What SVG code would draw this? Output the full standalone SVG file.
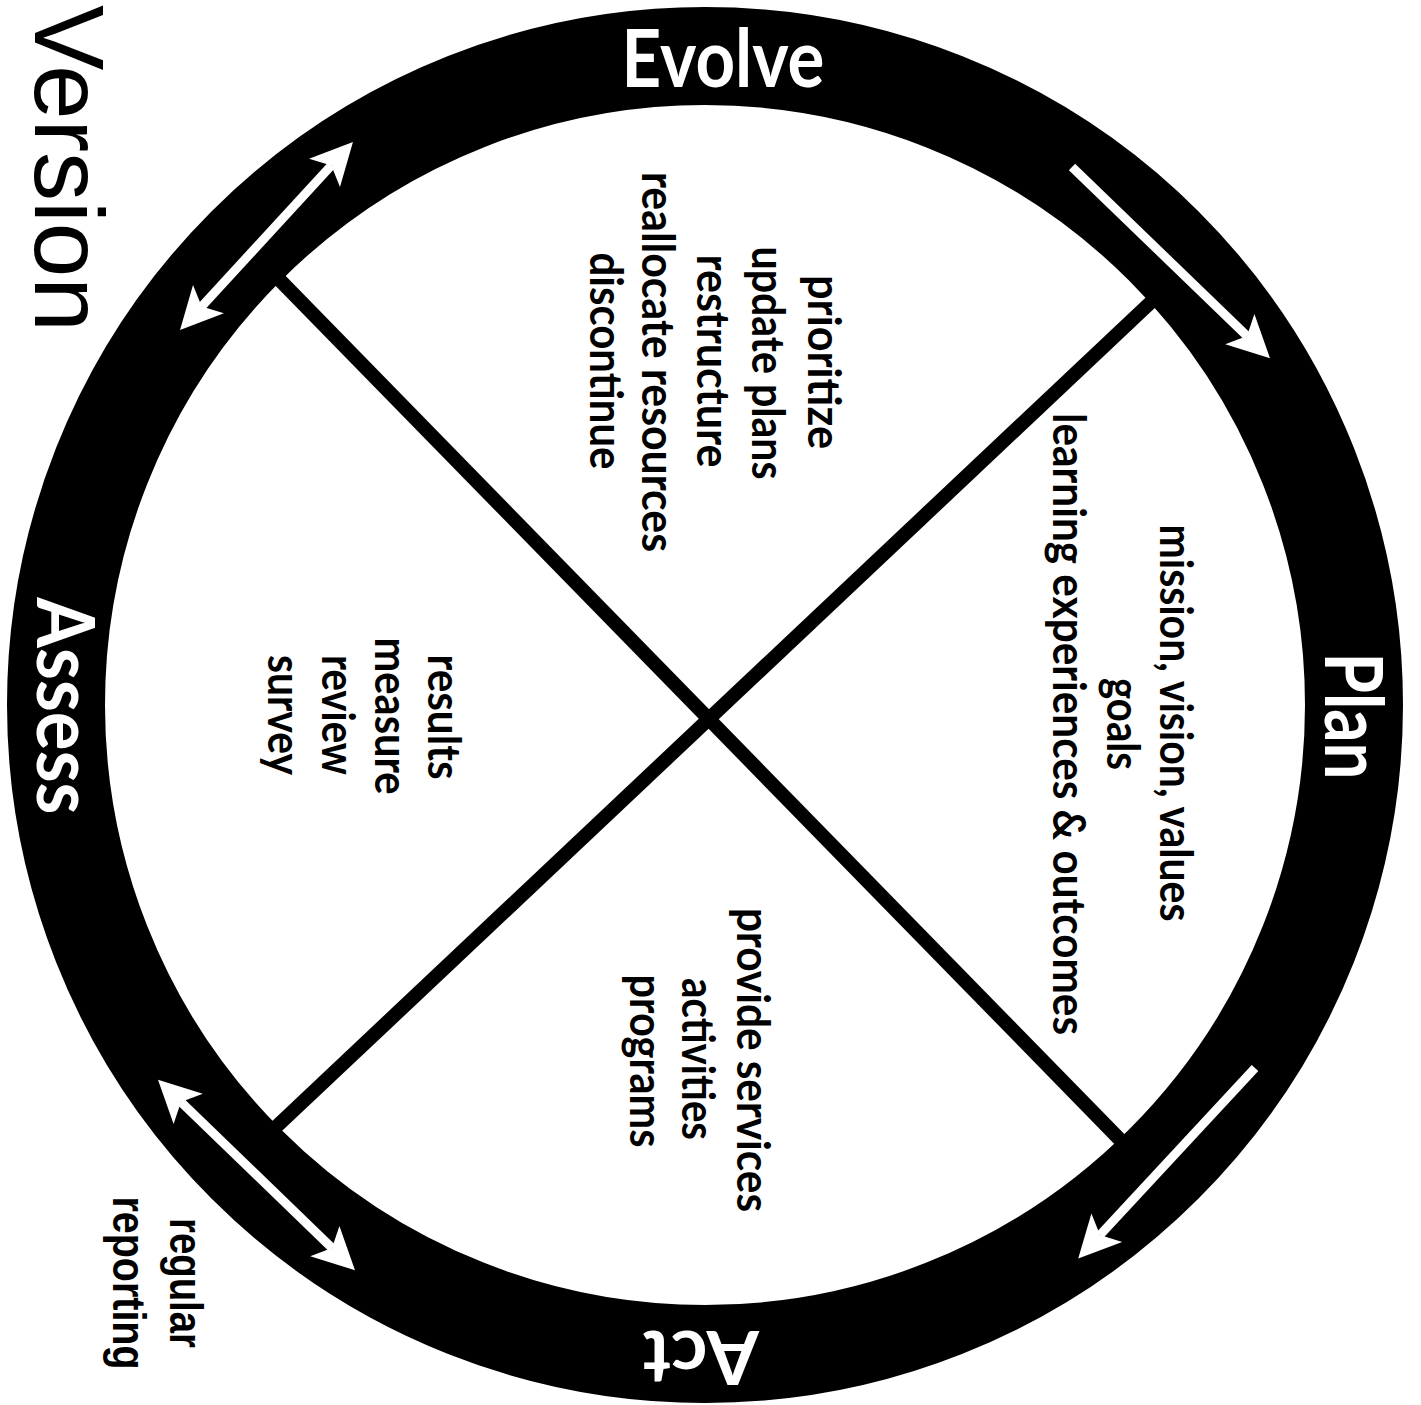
<svg xmlns="http://www.w3.org/2000/svg" width="1421" height="1405" viewBox="0 0 1421 1405">
  <style>
    .ring { fill: none; stroke: #000; stroke-width: 98; }
    .spoke { stroke: #000; stroke-width: 14; stroke-linecap: butt; }
    .arrow { stroke: #fff; stroke-width: 9; fill: none; stroke-linecap: butt; }
    .lbl { font-family: Lato, "Open Sans", sans-serif; font-weight: bold; font-size: 80px; fill: #fff; text-anchor: middle; }
    .body { font-family: Lato, "Open Sans", sans-serif; font-weight: bold; font-size: 46px; fill: #000; text-anchor: middle; }
    .note { font-family: "Liberation Sans", Arial, sans-serif; font-weight: bold; font-size: 46px; fill: #000; text-anchor: middle; }
    .title { font-family: "Liberation Sans", Arial, sans-serif; font-size: 98px; fill: #000; }
  </style>
  <defs>
    <marker id="ah" markerUnits="userSpaceOnUse" markerWidth="60" markerHeight="60" viewBox="-20 -30 60 60" refX="0" refY="0" orient="auto-start-reverse">
      <path d="M32,0 L-10,-21 L0,0 L-10,21 Z" fill="#fff"/>
    </marker>
  </defs>
  <rect width="1421" height="1405" fill="#fff"/>

  <g id="spokes">
    <line class="spoke" x1="269" y1="269" x2="1134" y2="1154"/>
    <line class="spoke" x1="1168" y1="286" x2="258" y2="1144"/>
  </g>

  <g id="cycle-ring">
    <circle class="ring" cx="705" cy="705" r="649"/>
  </g>

  <g id="connectors">
    <line class="arrow" x1="201.7" y1="306.5" x2="331.3" y2="165.5" marker-start="url(#ah)" marker-end="url(#ah)"/>
    <line class="arrow" x1="1072" y1="167" x2="1247" y2="336" marker-end="url(#ah)"/>
    <line class="arrow" x1="1255" y1="1068" x2="1100" y2="1235" marker-end="url(#ah)"/>
    <line class="arrow" x1="181" y1="1102" x2="332" y2="1248" marker-start="url(#ah)" marker-end="url(#ah)"/>
  </g>

  <g id="label-evolve">
    <text class="lbl" x="723" y="87" textLength="203" lengthAdjust="spacingAndGlyphs">Evolve</text>
  </g>
  <g id="label-plan" transform="rotate(90)">
    <text class="lbl" x="716" y="-1325" textLength="127" lengthAdjust="spacingAndGlyphs">Plan</text>
  </g>
  <g id="label-act" transform="rotate(180)">
    <text class="lbl" x="-701" y="-1331" style="font-size:74px" textLength="116" lengthAdjust="spacingAndGlyphs">Act</text>
  </g>
  <g id="label-assess" transform="rotate(90)">
    <text class="lbl" x="706" y="-37" textLength="217" lengthAdjust="spacingAndGlyphs">Assess</text>
  </g>

  <g id="evolve-items" transform="rotate(90)">
    <text class="body" x="362" y="-808" textLength="174" lengthAdjust="spacingAndGlyphs">prioritize</text>
    <text class="body" x="363" y="-752" textLength="233" lengthAdjust="spacingAndGlyphs">update plans</text>
    <text class="body" x="361" y="-697" textLength="213" lengthAdjust="spacingAndGlyphs">restructure</text>
    <text class="body" x="362" y="-642" textLength="380" lengthAdjust="spacingAndGlyphs">reallocate resources</text>
    <text class="body" x="361" y="-590" textLength="217" lengthAdjust="spacingAndGlyphs">discontinue</text>
  </g>

  <g id="plan-items" transform="rotate(90)">
    <text class="body" x="723" y="-1160" textLength="397" lengthAdjust="spacingAndGlyphs">mission, vision, values</text>
    <text class="body" x="724" y="-1107" textLength="92" lengthAdjust="spacingAndGlyphs">goals</text>
    <text class="body" x="724" y="-1053" textLength="622" lengthAdjust="spacingAndGlyphs">learning experiences &amp; outcomes</text>
  </g>

  <g id="act-items" transform="rotate(90)">
    <text class="body" x="1060" y="-737" textLength="304" lengthAdjust="spacingAndGlyphs">provide services</text>
    <text class="body" x="1059" y="-682" textLength="162" lengthAdjust="spacingAndGlyphs">activities</text>
    <text class="body" x="1061" y="-630" textLength="173" lengthAdjust="spacingAndGlyphs">programs</text>
  </g>

  <g id="assess-items" transform="rotate(90)">
    <text class="body" x="717" y="-428" textLength="125" lengthAdjust="spacingAndGlyphs">results</text>
    <text class="body" x="716" y="-375" textLength="157" lengthAdjust="spacingAndGlyphs">measure</text>
    <text class="body" x="715" y="-322" textLength="120" lengthAdjust="spacingAndGlyphs">review</text>
    <text class="body" x="715" y="-268" textLength="120" lengthAdjust="spacingAndGlyphs">survey</text>
  </g>

  <g id="regular-reporting" transform="rotate(90)">
    <text class="note" x="1283" y="-170" textLength="130" lengthAdjust="spacingAndGlyphs">regular</text>
    <text class="note" x="1283" y="-113" textLength="173" lengthAdjust="spacingAndGlyphs">reporting</text>
  </g>

  <g id="version-title" transform="rotate(90)">
    <text class="title" x="5" y="-35">Version</text>
  </g>
</svg>
